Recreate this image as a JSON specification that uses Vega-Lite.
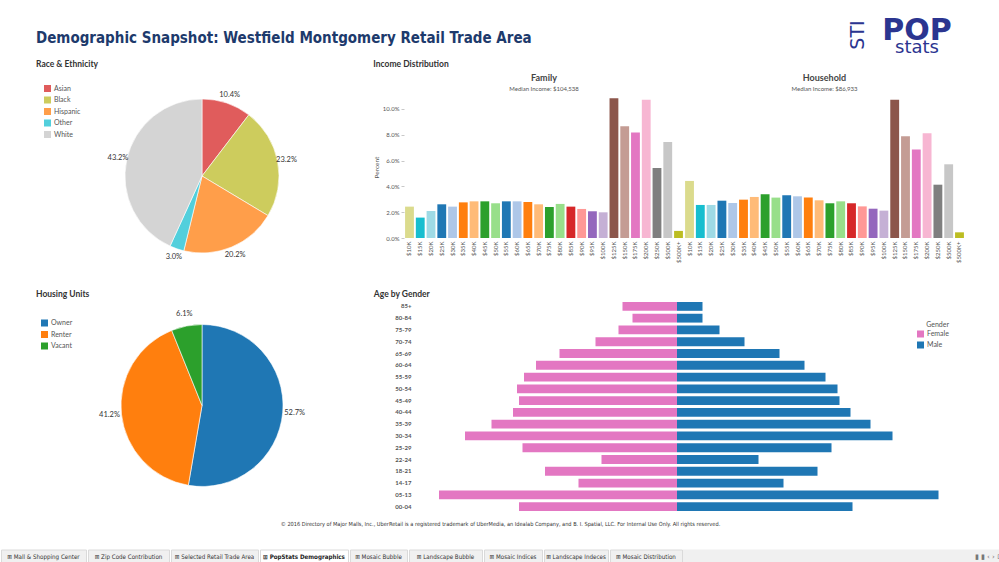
{
  "$schema": "https://vega.github.io/schema/vega-lite/v6.json",
  "padding": {"left": 0, "top": 16, "right": 0, "bottom": 0},
  "background": "white",
  "config": {
    "font": "Lato",
    "view": {"stroke": null},
    "axis": {"labelFont": "Lato", "titleFont": "Lato", "labelColor": "#555", "titleColor": "#555", "grid": false, "domain": false},
    "legend": {"labelFont": "Lato", "titleFont": "Lato", "padding": 0},
    "title": {"font": "Lato", "color": "#333"}
  },
  "datasets": {
    "race": [
      {"race": "Asian", "share": 0.104},
      {"race": "Black", "share": 0.232},
      {"race": "Hispanic", "share": 0.202},
      {"race": "Other", "share": 0.030},
      {"race": "White", "share": 0.432}
    ],
    "housing": [
      {"tenure": "Owner", "share": 0.527},
      {"tenure": "Renter", "share": 0.412},
      {"tenure": "Vacant", "share": 0.061}
    ],
    "income": [
      {"panel": "Family", "bracket": "$10K", "pct": 2.43},
      {"panel": "Family", "bracket": "$15K", "pct": 1.58},
      {"panel": "Family", "bracket": "$20K", "pct": 2.09},
      {"panel": "Family", "bracket": "$25K", "pct": 2.61},
      {"panel": "Family", "bracket": "$30K", "pct": 2.43},
      {"panel": "Family", "bracket": "$35K", "pct": 2.76},
      {"panel": "Family", "bracket": "$40K", "pct": 2.84},
      {"panel": "Family", "bracket": "$45K", "pct": 2.84},
      {"panel": "Family", "bracket": "$50K", "pct": 2.69},
      {"panel": "Family", "bracket": "$55K", "pct": 2.84},
      {"panel": "Family", "bracket": "$60K", "pct": 2.84},
      {"panel": "Family", "bracket": "$65K", "pct": 2.79},
      {"panel": "Family", "bracket": "$70K", "pct": 2.61},
      {"panel": "Family", "bracket": "$75K", "pct": 2.40},
      {"panel": "Family", "bracket": "$80K", "pct": 2.64},
      {"panel": "Family", "bracket": "$85K", "pct": 2.43},
      {"panel": "Family", "bracket": "$90K", "pct": 2.25},
      {"panel": "Family", "bracket": "$95K", "pct": 2.07},
      {"panel": "Family", "bracket": "$100K", "pct": 1.99},
      {"panel": "Family", "bracket": "$125K", "pct": 10.83},
      {"panel": "Family", "bracket": "$150K", "pct": 8.66},
      {"panel": "Family", "bracket": "$175K", "pct": 8.17},
      {"panel": "Family", "bracket": "$200K", "pct": 10.70},
      {"panel": "Family", "bracket": "$250K", "pct": 5.43},
      {"panel": "Family", "bracket": "$500K", "pct": 7.44},
      {"panel": "Family", "bracket": "$500K+", "pct": 0.55},
      {"panel": "Household", "bracket": "$10K", "pct": 4.42},
      {"panel": "Household", "bracket": "$15K", "pct": 2.56},
      {"panel": "Household", "bracket": "$20K", "pct": 2.56},
      {"panel": "Household", "bracket": "$25K", "pct": 2.89},
      {"panel": "Household", "bracket": "$30K", "pct": 2.71},
      {"panel": "Household", "bracket": "$35K", "pct": 2.97},
      {"panel": "Household", "bracket": "$40K", "pct": 3.18},
      {"panel": "Household", "bracket": "$45K", "pct": 3.39},
      {"panel": "Household", "bracket": "$50K", "pct": 3.13},
      {"panel": "Household", "bracket": "$55K", "pct": 3.31},
      {"panel": "Household", "bracket": "$60K", "pct": 3.23},
      {"panel": "Household", "bracket": "$65K", "pct": 3.13},
      {"panel": "Household", "bracket": "$70K", "pct": 2.92},
      {"panel": "Household", "bracket": "$75K", "pct": 2.69},
      {"panel": "Household", "bracket": "$80K", "pct": 2.84},
      {"panel": "Household", "bracket": "$85K", "pct": 2.69},
      {"panel": "Household", "bracket": "$90K", "pct": 2.45},
      {"panel": "Household", "bracket": "$95K", "pct": 2.27},
      {"panel": "Household", "bracket": "$100K", "pct": 2.12},
      {"panel": "Household", "bracket": "$125K", "pct": 10.70},
      {"panel": "Household", "bracket": "$150K", "pct": 7.88},
      {"panel": "Household", "bracket": "$175K", "pct": 6.85},
      {"panel": "Household", "bracket": "$200K", "pct": 8.11},
      {"panel": "Household", "bracket": "$250K", "pct": 4.13},
      {"panel": "Household", "bracket": "$500K", "pct": 5.71},
      {"panel": "Household", "bracket": "$500K+", "pct": 0.44}
    ],
    "age": [
      {"age": "85+", "gender": "Female", "pop": 54.5}, {"age": "85+", "gender": "Male", "pop": 25.5},
      {"age": "80-84", "gender": "Female", "pop": 44.5}, {"age": "80-84", "gender": "Male", "pop": 25.5},
      {"age": "75-79", "gender": "Female", "pop": 58.5}, {"age": "75-79", "gender": "Male", "pop": 42.5},
      {"age": "70-74", "gender": "Female", "pop": 81.5}, {"age": "70-74", "gender": "Male", "pop": 67.5},
      {"age": "65-69", "gender": "Female", "pop": 117.5}, {"age": "65-69", "gender": "Male", "pop": 102.5},
      {"age": "60-64", "gender": "Female", "pop": 141}, {"age": "60-64", "gender": "Male", "pop": 127.5},
      {"age": "55-59", "gender": "Female", "pop": 153}, {"age": "55-59", "gender": "Male", "pop": 148.5},
      {"age": "50-54", "gender": "Female", "pop": 160}, {"age": "50-54", "gender": "Male", "pop": 160.5},
      {"age": "45-49", "gender": "Female", "pop": 158}, {"age": "45-49", "gender": "Male", "pop": 162.5},
      {"age": "40-44", "gender": "Female", "pop": 164}, {"age": "40-44", "gender": "Male", "pop": 173.5},
      {"age": "35-39", "gender": "Female", "pop": 185.5}, {"age": "35-39", "gender": "Male", "pop": 193.5},
      {"age": "30-34", "gender": "Female", "pop": 212}, {"age": "30-34", "gender": "Male", "pop": 215.5},
      {"age": "25-29", "gender": "Female", "pop": 154.5}, {"age": "25-29", "gender": "Male", "pop": 154.5},
      {"age": "22-24", "gender": "Female", "pop": 75.5}, {"age": "22-24", "gender": "Male", "pop": 81.5},
      {"age": "18-21", "gender": "Female", "pop": 132}, {"age": "18-21", "gender": "Male", "pop": 140.5},
      {"age": "14-17", "gender": "Female", "pop": 98.5}, {"age": "14-17", "gender": "Male", "pop": 106.5},
      {"age": "05-13", "gender": "Female", "pop": 238}, {"age": "05-13", "gender": "Male", "pop": 261.5},
      {"age": "00-04", "gender": "Female", "pop": 158}, {"age": "00-04", "gender": "Male", "pop": 175.5}
    ]
  },
  "spacing": 3,
  "resolve": {"scale": {"color": "independent", "x": "independent", "y": "independent", "theta": "independent"}, "legend": {"color": "independent"}},
  "vconcat": [
    {
      "spacing": 5,
      "resolve": {"scale": {"y": "independent"}},
      "hconcat": [
        {"data": {"values": []}, "mark": "point", "width": 30, "height": 1},
        {
          "data": {"values": []}, "mark": "point", "width": 808, "height": 1,
          "title": {"text": "Demographic Snapshot:  Westfield Montgomery Retail Trade Area", "orient": "bottom", "anchor": "start", "offset": 12, "font": "DejaVu Sans Condensed, DejaVu Sans, sans-serif", "fontSize": 15, "fontWeight": "bold", "color": "#1d3a6c", "baseline": "top"}
        },
        {
          "width": 92, "height": 34,
          "title": {"text": "STI", "orient": "left", "anchor": "middle", "fontSize": 19, "font": "DejaVu Sans", "fontWeight": "normal", "color": "#2b3590", "offset": 3},
          "layer": [
            {"data": {"values": [{"w": "POP"}]}, "mark": {"type": "text", "fontSize": 30, "fontWeight": "bold", "font": "DejaVu Sans", "color": "#2b3590", "baseline": "alphabetic"},
             "encoding": {"text": {"field": "w"}, "y": {"field": "w", "type": "nominal", "scale": {"type": "point", "domain": ["POP", "stats"], "range": [22, 35], "padding": 0}, "axis": null}}},
            {"data": {"values": [{"w": "stats"}]}, "mark": {"type": "text", "fontSize": 18, "font": "DejaVu Sans", "color": "#2b3590", "baseline": "alphabetic"},
             "encoding": {"text": {"field": "w"}, "y": {"field": "w", "type": "nominal", "scale": {"type": "point", "domain": ["POP", "stats"], "range": [22, 35], "padding": 0}, "axis": null}}}
          ]
        }
      ]
    },
    {
      "spacing": 26.5,
      "resolve": {"scale": {"color": "independent", "x": "independent", "y": "independent", "theta": "independent"}, "legend": {"color": "independent"}},
      "vconcat": [
        {
          "spacing": 5,
          "resolve": {"scale": {"color": "independent", "x": "independent", "y": "independent", "theta": "independent"}, "legend": {"color": "independent"}},
          "hconcat": [
            {"data": {"values": []}, "mark": "point", "width": 30, "height": 1},
            {
              "width": 332, "height": 160,
              "title": {"text": "Race & Ethnicity", "anchor": "start", "fontSize": 8.5, "fontWeight": "bold", "offset": 16.5},
              "data": {"name": "race"},
              "encoding": {
                "theta": {"field": "share", "type": "quantitative", "stack": true},
                "order": {"field": "race", "sort": "ascending"}
              },
              "layer": [
                {
                  "mark": {"type": "arc", "outerRadius": 77, "stroke": "white", "strokeWidth": 0.6},
                  "encoding": {
                    "color": {"field": "race", "type": "nominal",
                      "scale": {"domain": ["Asian", "Black", "Hispanic", "Other", "White"], "range": ["#e05c5c", "#cdcc5d", "#ff9e4a", "#52cfdc", "#d4d4d4"]},
                      "legend": {"title": null, "orient": "none", "legendX": 8, "legendY": -11, "symbolType": "square", "symbolSize": 49, "symbolStrokeWidth": 0, "labelFontSize": 7, "labelColor": "#555", "rowPadding": 3.5, "labelOffset": 3}}
                  }
                },
                {
                  "mark": {"type": "text", "radius": 86, "fontSize": 7.5, "color": "#333"},
                  "encoding": {"detail": {"field": "race"}, "text": {"field": "share", "type": "quantitative", "format": ".1%"}}
                }
              ]
            },
            {
              "title": {"text": "Income Distribution", "anchor": "start", "fontSize": 8.5, "fontWeight": "bold", "offset": 5},
              "spacing": 0,
              "resolve": {"scale": {"y": "independent", "x": "independent"}},
              "hconcat": [
                {
                  "width": 280, "height": 142,
                  "title": {"text": "Family", "subtitle": "Median Income:  $104,538", "frame": "group", "anchor": "middle", "fontSize": 9, "fontWeight": "bold", "color": "#444", "subtitleFontSize": 6, "subtitleColor": "#555", "subtitlePadding": 3, "offset": 4.5},
                  "data": {"name": "income"},
                  "transform": [{"filter": "datum.panel === 'Family'"}],
                  "mark": {"type": "bar"},
                  "encoding": {
                    "x": {"field": "bracket", "type": "ordinal", "sort": null, "title": null, "scale": {"paddingInner": 0.18, "paddingOuter": 0.1},
                      "axis": {"labelAngle": -90, "labelFontSize": 6, "ticks": false, "labelPadding": 3}},
                    "y": {"field": "pct", "type": "quantitative", "scale": {"domain": [0, 11], "nice": false}, "title": "Percent",
                      "axis": {"values": [0, 2, 4, 6, 8, 10], "labelExpr": "format(datum.value, '.1f') + '%'", "labelFontSize": 6, "titleFontSize": 6.5, "titleFontWeight": "normal", "tickSize": 3, "tickColor": "#c8c8c8", "titlePadding": 3}},
                    "color": {"field": "bracket", "type": "nominal", "legend": null,
                      "scale": {"domain": ["$10K","$15K","$20K","$25K","$30K","$35K","$40K","$45K","$50K","$55K","$60K","$65K","$70K","$75K","$80K","$85K","$90K","$95K","$100K","$125K","$150K","$175K","$200K","$250K","$500K","$500K+"],
                                "range": ["#dbdb8d","#17becf","#9edae5","#1f77b4","#aec7e8","#ff7f0e","#ffbb78","#2ca02c","#98df8a","#1f77b4","#aec7e8","#ff7f0e","#ffbb78","#2ca02c","#98df8a","#d62728","#ff9896","#9467bd","#c5b0d5","#8c564b","#c49c94","#e377c2","#f7b6d2","#7f7f7f","#c7c7c7","#bcbd22"]}}
                  }
                },
                {
                  "width": 281, "height": 142,
                  "title": {"text": "Household", "subtitle": "Median Income:  $86,933", "frame": "group", "anchor": "middle", "fontSize": 9, "fontWeight": "bold", "color": "#444", "subtitleFontSize": 6, "subtitleColor": "#555", "subtitlePadding": 3, "offset": 4.5},
                  "data": {"name": "income"},
                  "transform": [{"filter": "datum.panel === 'Household'"}],
                  "mark": {"type": "bar"},
                  "encoding": {
                    "x": {"field": "bracket", "type": "ordinal", "sort": null, "title": null, "scale": {"paddingInner": 0.18, "paddingOuter": 0.1},
                      "axis": {"labelAngle": -90, "labelFontSize": 6, "ticks": false, "labelPadding": 3}},
                    "y": {"field": "pct", "type": "quantitative", "scale": {"domain": [0, 11], "nice": false}, "axis": null},
                    "color": {"field": "bracket", "type": "nominal", "legend": null,
                      "scale": {"domain": ["$10K","$15K","$20K","$25K","$30K","$35K","$40K","$45K","$50K","$55K","$60K","$65K","$70K","$75K","$80K","$85K","$90K","$95K","$100K","$125K","$150K","$175K","$200K","$250K","$500K","$500K+"],
                                "range": ["#dbdb8d","#17becf","#9edae5","#1f77b4","#aec7e8","#ff7f0e","#ffbb78","#2ca02c","#98df8a","#1f77b4","#aec7e8","#ff7f0e","#ffbb78","#2ca02c","#98df8a","#d62728","#ff9896","#9467bd","#c5b0d5","#8c564b","#c49c94","#e377c2","#f7b6d2","#7f7f7f","#c7c7c7","#bcbd22"]}}
                  }
                }
              ]
            }
          ]
        },
        {
          "spacing": 6,
          "resolve": {"scale": {"color": "independent", "x": "independent", "y": "independent", "theta": "independent"}, "legend": {"color": "independent"}},
          "vconcat": [
            {
              "spacing": 5,
              "resolve": {"scale": {"color": "independent", "x": "independent", "y": "independent", "theta": "independent"}, "legend": {"color": "independent"}},
              "hconcat": [
                {"data": {"values": []}, "mark": "point", "width": 30, "height": 1},
                {
                  "width": 332, "height": 210,
                  "title": {"text": "Housing Units", "anchor": "start", "fontSize": 8.5, "fontWeight": "bold", "offset": 2},
                  "data": {"name": "housing"},
                  "encoding": {
                    "theta": {"field": "share", "type": "quantitative", "stack": true},
                    "order": {"field": "tenure", "sort": "ascending"}
                  },
                  "layer": [
                    {
                      "mark": {"type": "arc", "outerRadius": 81, "stroke": "white", "strokeWidth": 0.6},
                      "encoding": {
                        "color": {"field": "tenure", "type": "nominal",
                          "scale": {"domain": ["Owner", "Renter", "Vacant"], "range": ["#1f77b4", "#ff7f0e", "#2ca02c"]},
                          "legend": {"title": null, "orient": "none", "legendX": 5, "legendY": 19, "symbolType": "square", "symbolSize": 49, "symbolStrokeWidth": 0, "labelFontSize": 7, "labelColor": "#555", "rowPadding": 3.5, "labelOffset": 3}}
                      }
                    },
                    {
                      "mark": {"type": "text", "radius": 93, "fontSize": 7.5, "color": "#333"},
                      "encoding": {"detail": {"field": "tenure"}, "text": {"field": "share", "type": "quantitative", "format": ".1%"}}
                    }
                  ]
                },
                {
                  "title": {"text": "Age by Gender", "anchor": "start", "fontSize": 8.5, "fontWeight": "bold", "offset": 2, "dx": -21},
                  "spacing": 0,
                  "resolve": {"scale": {"color": "independent", "x": "independent"}, "legend": {"color": "independent"}},
                  "hconcat": [
                    {
                      "width": 262, "height": 212,
                      "data": {"name": "age"},
                      "transform": [{"filter": "datum.gender === 'Female'"}],
                      "mark": {"type": "bar", "color": "#e377c2"},
                      "encoding": {
                        "y": {"field": "age", "type": "ordinal", "sort": null, "title": null, "scale": {"paddingInner": 0.25, "paddingOuter": 0.125},
                          "axis": {"ticks": false, "labelFontSize": 6, "labelFontWeight": "bold", "labelColor": "#555", "labelPadding": 4}},
                        "x": {"field": "pop", "type": "quantitative", "scale": {"domain": [0, 262], "nice": false, "reverse": true}, "axis": null}
                      }
                    },
                    {
                      "width": 288, "height": 212,
                      "data": {"name": "age"},
                      "transform": [{"filter": "datum.gender === 'Male'"}],
                      "layer": [
                        {
                          "mark": {"type": "bar"},
                          "encoding": {
                            "y": {"field": "age", "type": "ordinal", "sort": null, "title": null, "scale": {"paddingInner": 0.25, "paddingOuter": 0.125}, "axis": null},
                            "x": {"field": "pop", "type": "quantitative", "scale": {"domain": [0, 288], "nice": false}, "axis": null},
                            "color": {"field": "gender", "type": "nominal",
                              "scale": {"domain": ["Female", "Male"], "range": ["#e377c2", "#1f77b4"]},
                              "legend": {"title": "Gender", "orient": "none", "legendX": 240, "legendY": 20, "titleFontSize": 7, "titleFontWeight": "normal", "titleColor": "#555", "titleAnchor": "end", "titlePadding": 3, "symbolType": "square", "symbolSize": 49, "symbolStrokeWidth": 0, "labelFontSize": 7, "labelColor": "#555", "rowPadding": 3, "labelOffset": 3, "values": ["Female", "Male"]}}
                          }
                        }
                      ]
                    }
                  ]
                }
              ]
            },
            {
              "spacing": 20,
              "vconcat": [
                {
                  "width": 999, "height": 10,
                  "data": {"values": [{"t": "© 2016 Directory of Major Malls, Inc., UberRetail is a registered trademark of UberMedia, an Idealab Company, and B. I. Spatial, LLC.  For Internal Use Only. All rights reserved."}]},
                  "mark": {"type": "text", "fontSize": 5.6, "font": "DejaVu Sans Condensed, DejaVu Sans, sans-serif", "color": "#333"},
                  "encoding": {"text": {"field": "t"}}
                },
                {
                  "spacing": 0,
                  "hconcat": [
                    {"width": 85, "height": 15, "view": {"fill": "#f0f0f0", "stroke": "#dadada"}, "data": {"values": [{"t": "⊞ Mall & Shopping Center"}]}, "mark": {"type": "text", "fontSize": 6.2, "font": "DejaVu Sans Condensed, DejaVu Sans, sans-serif", "color": "#333"}, "encoding": {"text": {"field": "t"}}},
                    {"width": 81, "height": 15, "view": {"fill": "#f0f0f0", "stroke": "#dadada"}, "data": {"values": [{"t": "⊞ Zip Code Contribution"}]}, "mark": {"type": "text", "fontSize": 6.2, "font": "DejaVu Sans Condensed, DejaVu Sans, sans-serif", "color": "#333"}, "encoding": {"text": {"field": "t"}}},
                    {"width": 87, "height": 15, "view": {"fill": "#f0f0f0", "stroke": "#dadada"}, "data": {"values": [{"t": "⊞ Selected Retail Trade Area"}]}, "mark": {"type": "text", "fontSize": 6.2, "font": "DejaVu Sans Condensed, DejaVu Sans, sans-serif", "color": "#333"}, "encoding": {"text": {"field": "t"}}},
                    {"width": 88, "height": 15, "view": {"fill": "#ffffff", "stroke": "#dadada"}, "data": {"values": [{"t": "⊞ PopStats Demographics"}]}, "mark": {"type": "text", "fontSize": 6.2, "fontWeight": "bold", "font": "DejaVu Sans Condensed, DejaVu Sans, sans-serif", "color": "#222"}, "encoding": {"text": {"field": "t"}}},
                    {"width": 57, "height": 15, "view": {"fill": "#f0f0f0", "stroke": "#dadada"}, "data": {"values": [{"t": "⊞ Mosaic Bubble"}]}, "mark": {"type": "text", "fontSize": 6.2, "font": "DejaVu Sans Condensed, DejaVu Sans, sans-serif", "color": "#333"}, "encoding": {"text": {"field": "t"}}},
                    {"width": 73, "height": 15, "view": {"fill": "#f0f0f0", "stroke": "#dadada"}, "data": {"values": [{"t": "⊞ Landscape Bubble"}]}, "mark": {"type": "text", "fontSize": 6.2, "font": "DejaVu Sans Condensed, DejaVu Sans, sans-serif", "color": "#333"}, "encoding": {"text": {"field": "t"}}},
                    {"width": 58, "height": 15, "view": {"fill": "#f0f0f0", "stroke": "#dadada"}, "data": {"values": [{"t": "⊞ Mosaic Indices"}]}, "mark": {"type": "text", "fontSize": 6.2, "font": "DejaVu Sans Condensed, DejaVu Sans, sans-serif", "color": "#333"}, "encoding": {"text": {"field": "t"}}},
                    {"width": 64, "height": 15, "view": {"fill": "#f0f0f0", "stroke": "#dadada"}, "data": {"values": [{"t": "⊞ Landscape Indeces"}]}, "mark": {"type": "text", "fontSize": 6.2, "font": "DejaVu Sans Condensed, DejaVu Sans, sans-serif", "color": "#333"}, "encoding": {"text": {"field": "t"}}},
                    {"width": 72, "height": 15, "view": {"fill": "#f0f0f0", "stroke": "#dadada"}, "data": {"values": [{"t": "⊞ Mosaic Distribution"}]}, "mark": {"type": "text", "fontSize": 6.2, "font": "DejaVu Sans Condensed, DejaVu Sans, sans-serif", "color": "#333"}, "encoding": {"text": {"field": "t"}}},
                    {"width": 334, "height": 15, "view": {"fill": "#f0f0f0", "stroke": null}, "data": {"values": [{"t": "▮ ▮ ‹ › ⊡"}]}, "mark": {"type": "text", "fontSize": 7, "align": "right", "color": "#777", "dx": -14, "font": "DejaVu Sans"}, "encoding": {"text": {"field": "t"}, "x": {"value": "width"}}}
                  ]
                }
              ]
            }
          ]
        }
      ]
    }
  ]
}
